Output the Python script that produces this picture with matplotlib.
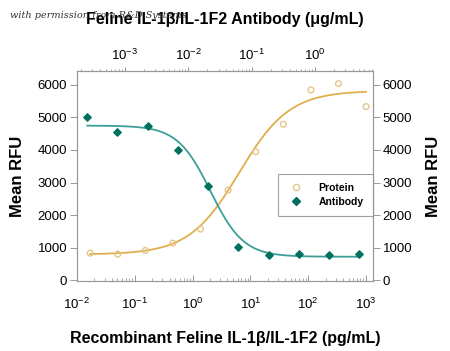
import numpy as np
import matplotlib
matplotlib.use('Agg')
import matplotlib.pyplot as plt
from matplotlib.lines import Line2D

plt.rcParams['font.family'] = ['Liberation Sans', 'DejaVu Sans']
plt.rcParams['mathtext.fontset'] = 'custom'
plt.rcParams['mathtext.rm'] = 'Liberation Sans'

# recombinant protein, pg/mL (3-fold dilutions)
protein_x = [1000 / 3**k for k in range(10, -1, -1)]
protein_y = [830, 800, 914, 1138, 1569, 2769, 3948, 4790, 5846, 6040, 5333]
# antibody, ug/mL
antibody_x = [5 / 3**k for k in range(9, -1, -1)]
antibody_y = [5025, 4545, 4748, 4010, 2883, 1025, 760, 809, 760, 791]

# 4PL fit parameters: bottom, top, ec50, hill
protein_fit = (790, 5820, 6.4, 1.0)
antibody_fit = (4750, 720, 0.0224, 1.67)

gold_line = '#E0AE4C'
gold_mark = '#E6C58A'
teal_line = '#3D9E98'
teal_mark = '#00705E'


def fourpl(x, p):
    a, d, c, h = p
    return a + (d - a) * (x / c)**h / (1 + (x / c)**h)


fig = plt.figure(figsize=(4.5, 3.51), dpi=100)
ax = fig.add_axes([0.171, 0.199, 0.658, 0.599])
ax.set_xscale('log')
ax.set_xlim(0.01, 1320)
ax.set_ylim(-30, 6430)

xs = np.geomspace(min(protein_x), max(protein_x), 200)
ax.plot(xs, fourpl(xs, protein_fit), color=gold_line, lw=1.3, zorder=2)
ax.scatter(protein_x, protein_y, s=17, facecolors='none', edgecolors=gold_mark,
           linewidths=1.0, zorder=3)

axt = ax.twiny()
axt.set_xscale('log')
axt.set_xlim(10**-3.758, 10**0.916)
xa = np.geomspace(min(antibody_x), max(antibody_x), 200)
axt.plot(xa, fourpl(xa, antibody_fit), color=teal_line, lw=1.3, zorder=2)
axt.scatter(antibody_x, antibody_y, s=14, marker='D', color=teal_mark, zorder=3)

ax.set_yticks([0, 1000, 2000, 3000, 4000, 5000, 6000])
ax.tick_params(axis='y', direction='out', length=5, width=0.6, color='#888888',
               labelsize=9.5, pad=2, right=True, labelright=True)
ax.tick_params(axis='x', which='major', direction='in', length=4, width=0.6,
               color='#888888', labelsize=9.5, pad=11)
ax.tick_params(axis='x', which='minor', direction='in', length=2, width=0.5, color='#888888')
axt.tick_params(axis='x', which='major', direction='out', length=3, width=0.6,
                color='#888888', labelsize=9.5, pad=3)
axt.tick_params(axis='x', which='minor', direction='out', length=1.5, width=0.5, color='#888888')
axt.set_xticks([1e-3, 1e-2, 1e-1, 1])
for a in (ax, axt):
    for s in a.spines.values():
        s.set_color('#999999')
        s.set_linewidth(0.8)

ax.set_ylabel('Mean RFU', fontsize=12, fontweight='bold', labelpad=9)
sec = ax.secondary_yaxis('right')
sec.set_yticks([])
sec.spines['right'].set_visible(False)
sec.set_ylabel('Mean RFU', fontsize=12, fontweight='bold', labelpad=38)
ax.set_xlabel('Recombinant Feline IL-1\u03b2/IL-1F2 (pg/mL)', fontsize=11.5,
              fontweight='bold', labelpad=14)
axt.set_xlabel('Feline IL-1\u03b2/IL-1F2 Antibody (\u03bcg/mL)', fontsize=11.5,
               fontweight='bold', labelpad=17)

handles = [
    Line2D([], [], ls='none', marker='o', mfc='none', mec=gold_mark, ms=4.5, mew=1.0),
    Line2D([], [], ls='none', marker='D', color=teal_mark, ms=3.8),
]
leg = axt.legend(handles, ['Protein', 'Antibody'], loc='center left',
                 bbox_to_anchor=(0.66, 0.41), frameon=True,
                 fancybox=False, edgecolor='#888888', handletextpad=1.3,
                 handlelength=1.8, borderpad=0.85, labelspacing=0.4,
                 prop={'weight': 'bold', 'size': 7.5})
leg.get_frame().set_linewidth(0.8)

fig.text(0.022, 0.955, 'with permission from R&D Systems', fontsize=7,
         style='italic', family='DejaVu Serif', color='#333333', va='center')

fig.savefig('out.png', dpi=100)
